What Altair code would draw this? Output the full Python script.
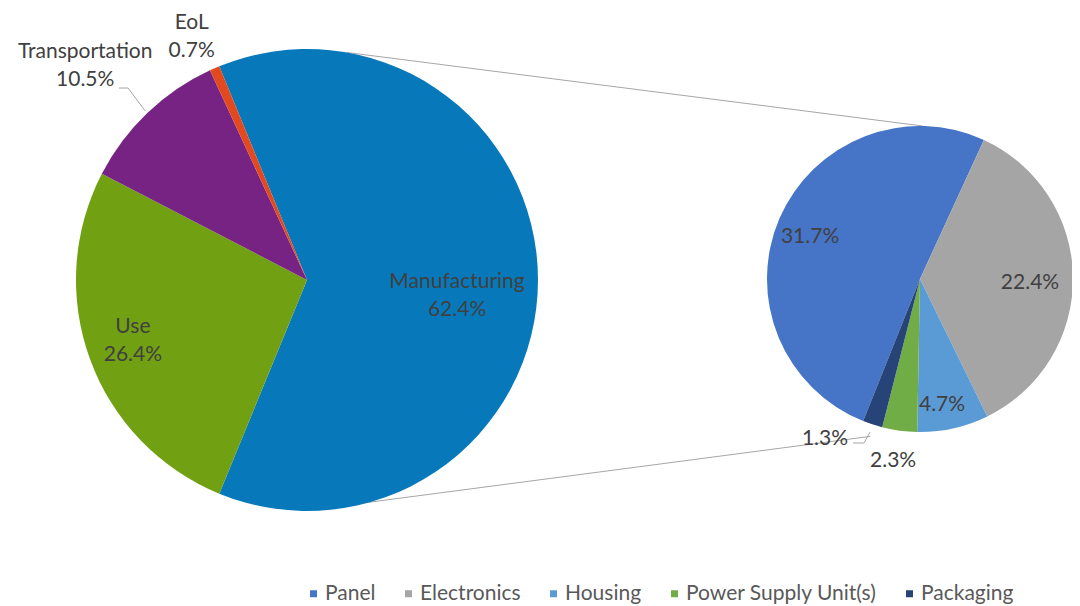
import math
import numpy as np
import pandas as pd
import altair as alt

# ---------------- data ----------------
stages = ["Manufacturing", "Use", "Transportation", "EoL"]
stage_values = [62.4, 26.4, 10.5, 0.7]
stage_colors = ["#0779BB", "#71A012", "#772383", "#E2491E"]

components = ["Panel", "Electronics", "Housing", "Power Supply Unit(s)", "Packaging"]
component_values = [31.7, 22.4, 4.7, 2.3, 1.3]
component_colors = ["#4674C6", "#A5A5A5", "#5B9BD5", "#70AD47", "#264478"]

# ---------------- layout (page pixels) ----------------
M = 8  # page margin
BIG_C = (307, 280)
BIG_R = 231
SMALL_C = (920, 279)
SMALL_R = 153
SMALL_START = 201.8  # degrees, start of the first component slice

big_total = sum(stage_values)
small_total = sum(component_values)
# split slice (Manufacturing) is centred facing the secondary pie (90 deg)
BIG_START = 90 - stage_values[0] / big_total * 180 + 360

# label placement: (angle tweak in deg from slice middle, radius)
big_label_adj = [(6.1, 150.9), (0.9, 184.4), (-2.25, 308.4), (-1.8, 269.0)]
small_label_adj = [(-2.35, 117.7), (2.8, 110.1), (2.6, 127.9), (0.75, 184.0), (12.65, 186.1)]


def polar(c, r, deg):
    a = math.radians(deg)
    return c[0] + r * math.sin(a) - M, c[1] - r * math.cos(a) - M


def mids(values, start):
    tot = sum(values)
    out, acc = [], 0.0
    for v in values:
        out.append(start + (acc + v / 2) / tot * 360)
        acc += v
    return out


big_mid = mids(stage_values, BIG_START)
small_mid = mids(component_values, SMALL_START)

big_df = pd.DataFrame({"stage": stages, "value": stage_values, "order": range(len(stages))})
small_df = pd.DataFrame({"component": components, "value": component_values,
                         "order": range(len(components))})

bl = [polar(BIG_C, r, m + t) for m, (t, r) in zip(big_mid, big_label_adj)]
big_lab = pd.DataFrame({
    "x": [p[0] for p in bl], "y": [p[1] for p in bl],
    "text": [f"{s}\n{v:.1f}%" for s, v in zip(stages, stage_values)],
})
sl = [polar(SMALL_C, r, m + t) for m, (t, r) in zip(small_mid, small_label_adj)]
small_lab = pd.DataFrame({
    "x": [p[0] for p in sl], "y": [p[1] for p in sl],
    "text": [f"{v:.1f}%" for v in component_values],
})

# connector lines between the pies
c1a = polar(BIG_C, BIG_R, 10.0)
c1b = polar(SMALL_C, SMALL_R, 1.1)
c2a = polar(BIG_C, 229, 168.5)
c2b = polar(SMALL_C, 165, 197.5)
conn = pd.DataFrame({
    "x": [c1a[0], c2a[0]], "y": [c1a[1], c2a[1]],
    "x2": [c1b[0], c2b[0]], "y2": [c1b[1], c2b[1]],
})

# leader lines
t_end = polar(BIG_C, BIG_R + 3, big_mid[2])
p_end = polar(SMALL_C, 161, small_mid[4])
lead = pd.DataFrame({
    "id": ["t", "t", "t", "p", "p", "p"],
    "k": [0, 1, 2, 0, 1, 2],
    "x": [119 - M, 128 - M, t_end[0], 853 - M, 864 - M, p_end[0]],
    "y": [88 - M, 88 - M, t_end[1], 443 - M, 443 - M, p_end[1]],
})

FONT = "Lato"
FS = 21
TXT = "#404040"

big_arc = alt.Chart(big_df).mark_arc(outerRadius=BIG_R).encode(
    theta=alt.Theta("value:Q", stack=True,
                    scale=alt.Scale(domain=[0, big_total],
                                    range=[math.radians(BIG_START), math.radians(BIG_START) + 2 * math.pi])),
    color=alt.Color("stage:N", scale=alt.Scale(domain=stages, range=stage_colors), legend=None),
    order=alt.Order("order:Q"),
    x=alt.value(BIG_C[0] - M),
    y=alt.value(BIG_C[1] - M),
)

small_arc = alt.Chart(small_df).mark_arc(outerRadius=SMALL_R).encode(
    theta=alt.Theta("value:Q", stack=True,
                    scale=alt.Scale(domain=[0, small_total],
                                    range=[math.radians(SMALL_START), math.radians(SMALL_START) + 2 * math.pi])),
    color=alt.Color("component:N",
                    scale=alt.Scale(domain=components, range=component_colors),
                    legend=alt.Legend(title=None, orient="none", legendX=303 - M, legendY=583 - M,
                                      direction="horizontal", symbolType="square", symbolSize=49,
                                      symbolStrokeWidth=0, labelFont=FONT, labelFontSize=FS,
                                      labelColor="#595959", columnPadding=22, labelOffset=1,
                                      labelLimit=400, padding=0)),
    order=alt.Order("order:Q"),
    x=alt.value(SMALL_C[0] - M),
    y=alt.value(SMALL_C[1] - M),
)

conn_layer = alt.Chart(conn).mark_rule(color="#A6A6A6", strokeWidth=1).encode(
    x=alt.X("x:Q", scale=None, axis=None),
    y=alt.Y("y:Q", scale=None, axis=None),
    x2="x2:Q", y2="y2:Q",
)

lead_layer = alt.Chart(lead).mark_line(color="#A6A6A6", strokeWidth=1).encode(
    x=alt.X("x:Q", scale=None, axis=None),
    y=alt.Y("y:Q", scale=None, axis=None),
    detail="id:N",
    order="k:Q",
)

big_text = alt.Chart(big_lab).mark_text(font=FONT, fontSize=FS, color=TXT, lineBreak="\n",
                                        lineHeight=28, dy=-14, align="center",
                                        baseline="middle").encode(
    x=alt.X("x:Q", scale=None, axis=None),
    y=alt.Y("y:Q", scale=None, axis=None),
    text="text:N",
)

small_text = alt.Chart(small_lab).mark_text(font=FONT, fontSize=FS, color=TXT,
                                            align="center", baseline="middle").encode(
    x=alt.X("x:Q", scale=None, axis=None),
    y=alt.Y("y:Q", scale=None, axis=None),
    text="text:N",
)

chart = alt.layer(conn_layer, big_arc, small_arc, lead_layer, big_text, small_text).resolve_scale(
    theta="independent", color="independent"
).properties(
    width=1064, height=596, autosize="none", padding=0, background="white"
).configure_view(strokeWidth=0)

chart.save("out.html", embed_options={"renderer": "svg", "actions": False})
